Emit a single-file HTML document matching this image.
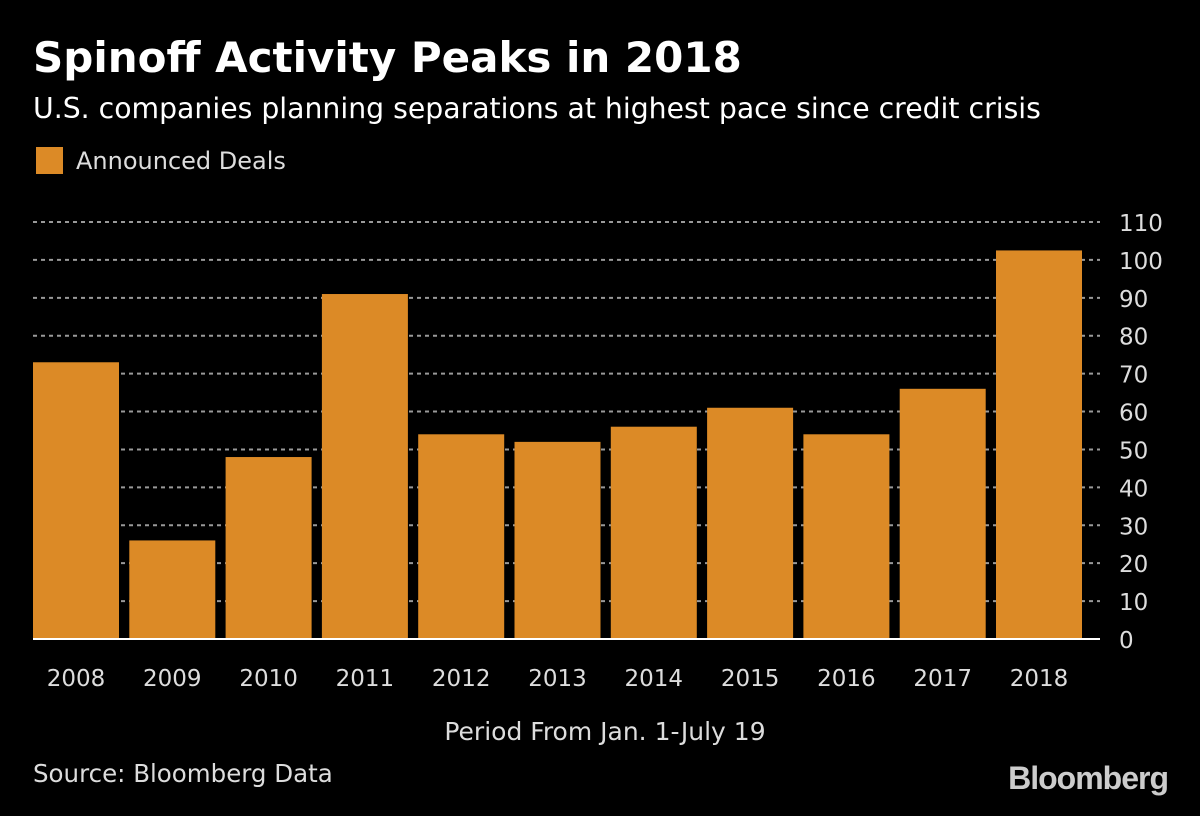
<!DOCTYPE html>
<html><head><meta charset="utf-8"><style>
body{margin:0;background:#000;width:1200px;height:811px;overflow:hidden;color:#fff}
</style></head><body>
<svg width="1200" height="811" font-family="DejaVu Sans, Liberation Sans, sans-serif">
<text x="33" y="72" font-size="42" font-weight="bold" fill="#fff">Spinoff Activity Peaks in 2018</text>
<text x="33" y="118" font-size="28.3" fill="#fff">U.S. companies planning separations at highest pace since credit crisis</text>
<rect x="36" y="147" width="27" height="27" fill="#dc8a26"/>
<text x="76" y="169" font-size="24" fill="#ddd">Announced Deals</text>
<g id="grid"></g><g id="bars"></g><g id="xlabels"></g><g id="ylabels"></g>
<line x1="33" x2="1100" y1="639" y2="639" stroke="#fff" stroke-width="2"/>
<text x="605" y="740" font-size="25" fill="#ddd" text-anchor="middle">Period From Jan. 1-July 19</text>
<text x="33" y="782" font-size="24.5" fill="#ddd">Source: Bloomberg Data</text>
<text x="1168" y="789" font-size="32" font-weight="bold" fill="#ccc" text-anchor="end" font-family="Liberation Sans, sans-serif" letter-spacing="-1">Bloomberg</text>
</svg>
<script>
const categories=["2008","2009","2010","2011","2012","2013","2014","2015","2016","2017","2018"];
const values=[73,26,48,91,54,52,56,61,54,66,102.5];
const ticks=[0,10,20,30,40,50,60,70,80,90,100,110];
const NS="http://www.w3.org/2000/svg";
function y(v){return 639-v*(639-222)/110;}
function x(i){return 33+i*96.3;}
const bw=86;
function mk(t,a,p){const e=document.createElementNS(NS,t);for(const k in a)e.setAttribute(k,a[k]);p.appendChild(e);return e;}
const g=document.getElementById('grid'),b=document.getElementById('bars'),xl=document.getElementById('xlabels'),yl=document.getElementById('ylabels');
ticks.forEach(t=>{
 if(t>0){const l=mk('line',{x1:33,x2:1100,y1:y(t),y2:y(t),stroke:'#999','stroke-width':2,'stroke-dasharray':'4 4'},g);
 
 }
 const tx=mk('text',{x:1119,y:y(t)+9,'font-size':23,fill:'#ddd'},yl);tx.textContent=t;
 
 
});
categories.forEach((c,i)=>{
 const r=mk('rect',{x:x(i),y:y(values[i]),width:bw,height:639-y(values[i]),fill:'#dc8a26'},b);
 
 
 const tx=mk('text',{x:x(i)+bw/2,y:686,'font-size':23,fill:'#ddd','text-anchor':'middle'},xl);tx.textContent=c;
 
 
});
</script>
</body></html>
